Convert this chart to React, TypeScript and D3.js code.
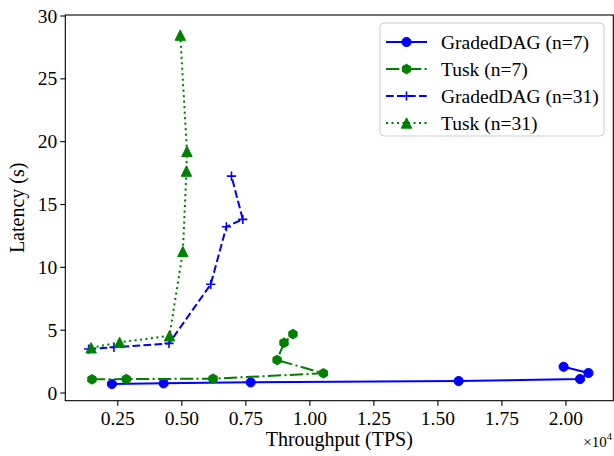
import React from "react";
import * as d3 from "d3";

const W = 614;
const H = 456;

// Data (throughput in TPS, latency in s)
const gd7X = [2270, 4290, 7690, 15810, 20550, 20880, 19910];
const gd7Y = [0.72, 0.77, 0.85, 0.95, 1.11, 1.59, 2.09];

const tusk7X = [1490, 2830, 6220, 10530, 8720, 8990, 9340];
const tusk7Y = [1.09, 1.11, 1.14, 1.57, 2.63, 4.0, 4.69];

const gd31X = [1360, 2350, 4500, 6130, 6740, 7380, 6940];
const gd31Y = [3.5, 3.64, 3.95, 8.65, 13.23, 13.82, 17.26];

const tusk31X = [1460, 2570, 4520, 5040, 5180, 5200, 4940];
const tusk31Y = [3.6, 4.03, 4.56, 11.26, 17.66, 19.23, 28.48];

const xTicks = [2500, 5000, 7500, 10000, 12500, 15000, 17500, 20000];
const yTicks = [0, 5, 10, 15, 20, 25, 30];

const legendLabels = ["GradedDAG (n=7)", "Tusk (n=7)", "GradedDAG (n=31)", "Tusk (n=31)"];

const BLUE = "#0000ff";
const GREEN = "#008000";
const FONT = "'Liberation Serif', 'Times New Roman', serif";

type Marker = "circle" | "hex" | "plus" | "tri";

function markerPath(kind: Marker, cx: number, cy: number): string {
  if (kind === "circle") {
    const r = 4.6;
    return `M${cx - r},${cy}a${r},${r} 0 1,0 ${2 * r},0a${r},${r} 0 1,0 ${-2 * r},0Z`;
  }
  if (kind === "hex") {
    const r = 4.8;
    const pts = d3.range(6).map((k) => {
      const a = Math.PI / 2 + (k * Math.PI) / 3;
      return [cx + r * Math.cos(a), cy - r * Math.sin(a)];
    });
    return "M" + pts.map((p) => p.join(",")).join("L") + "Z";
  }
  if (kind === "tri") {
    const r = 5.2;
    const pts = [
      [cx, cy - r],
      [cx - r, cy + r],
      [cx + r, cy + r],
    ];
    return "M" + pts.map((p) => p.join(",")).join("L") + "Z";
  }
  const s = 4.6;
  return `M${cx - s},${cy}L${cx + s},${cy}M${cx},${cy - s}L${cx},${cy + s}`;
}

interface Series {
  xs: number[];
  ys: number[];
  color: string;
  dash: string;
  marker: Marker;
  label: string;
}

export default function App() {
  const left = 65.3;
  const right = 613.3;
  const top = 15;
  const bottom = 400.7;

  const x = d3.scaleLinear().domain([450, 21850]).range([left, right]);
  const y = d3.scaleLinear().domain([-0.61, 30.08]).range([bottom, top]);

  const series: Series[] = [
    { xs: gd7X, ys: gd7Y, color: BLUE, dash: "none", marker: "circle", label: legendLabels[0] },
    { xs: tusk7X, ys: tusk7Y, color: GREEN, dash: "13.3,3.3,2.1,3.3", marker: "hex", label: legendLabels[1] },
    { xs: gd31X, ys: gd31Y, color: BLUE, dash: "7.7,3.3", marker: "plus", label: legendLabels[2] },
    { xs: tusk31X, ys: tusk31Y, color: GREEN, dash: "2.1,3.4", marker: "tri", label: legendLabels[3] },
  ];

  const line = d3
    .line<[number, number]>()
    .x((d) => x(d[0]))
    .y((d) => y(d[1]));

  const renderMarker = (s: Series, cx: number, cy: number, key: string) =>
    s.marker === "plus" ? (
      <path key={key} d={markerPath("plus", cx, cy)} stroke={s.color} strokeWidth={1.6} fill="none" />
    ) : (
      <path key={key} d={markerPath(s.marker, cx, cy)} fill={s.color} stroke={s.color} strokeWidth={1} />
    );

  const legX = 380;
  const legY = 23;
  const legW = 224;
  const legH = 113;
  const rowY = (i: number) => legY + 19 + i * 27;

  return (
    <svg
      width={W}
      height={H}
      style={{ position: "absolute", left: 0, top: 0, background: "#fff" }}
      fontFamily={FONT}
    >
      <rect x={0} y={0} width={W} height={H} fill="#fff" />
      <defs>
        <clipPath id="plotclip">
          <rect x={left} y={top} width={right - left} height={bottom - top} />
        </clipPath>
      </defs>

      <g clipPath="url(#plotclip)">
        {series.map((s, i) => {
          const pts = s.xs.map((v, j) => [v, s.ys[j]] as [number, number]);
          return (
            <g key={i}>
              <path
                d={line(pts) || ""}
                fill="none"
                stroke={s.color}
                strokeWidth={2}
                strokeDasharray={s.dash === "none" ? undefined : s.dash}
              />
              {pts.map((p, j) => renderMarker(s, x(p[0]), y(p[1]), `m${i}-${j}`))}
            </g>
          );
        })}
      </g>

      {/* frame */}
      <rect x={left} y={top} width={right - left} height={bottom - top} fill="none" stroke="#000" strokeWidth={1.1} />

      {/* x ticks */}
      {xTicks.map((t) => (
        <g key={t}>
          <line x1={x(t)} x2={x(t)} y1={bottom} y2={bottom + 5} stroke="#000" strokeWidth={1.1} />
          <text x={x(t)} y={bottom + 24} textAnchor="middle" fontSize={19.5} fill="#000">
            {(t / 10000).toFixed(2)}
          </text>
        </g>
      ))}
      <text x={612} y={447} textAnchor="end" fontSize={15} fill="#000">
        ×10<tspan dy={-7} fontSize={10.5}>4</tspan>
      </text>

      {/* y ticks */}
      {yTicks.map((t) => (
        <g key={t}>
          <line x1={left - 5} x2={left} y1={y(t)} y2={y(t)} stroke="#000" strokeWidth={1.1} />
          <text x={left - 8} y={y(t) + 6.5} textAnchor="end" fontSize={19.5} fill="#000">
            {t}
          </text>
        </g>
      ))}

      {/* axis labels */}
      <text x={(left + right) / 2} y={446} textAnchor="middle" fontSize={20} fill="#000">
        Throughput (TPS)
      </text>
      <text
        transform={`translate(24,${(top + bottom) / 2}) rotate(-90)`}
        textAnchor="middle"
        fontSize={20}
        fill="#000"
      >
        Latency (s)
      </text>

      {/* legend */}
      <rect x={legX} y={legY} width={legW} height={legH} rx={4} fill="#fff" fillOpacity={0.8} stroke="#cccccc" strokeWidth={1} />
      {series.map((s, i) => {
        const cy = rowY(i);
        return (
          <g key={`leg${i}`}>
            <line
              x1={legX + 6}
              x2={legX + 47}
              y1={cy}
              y2={cy}
              stroke={s.color}
              strokeWidth={2}
              strokeDasharray={s.dash === "none" ? undefined : s.dash}
            />
            {renderMarker(s, legX + 26.5, cy, `lm${i}`)}
            <text x={legX + 61} y={cy + 6.5} fontSize={19.5} fill="#000">
              {s.label}
            </text>
          </g>
        );
      })}
    </svg>
  );
}
